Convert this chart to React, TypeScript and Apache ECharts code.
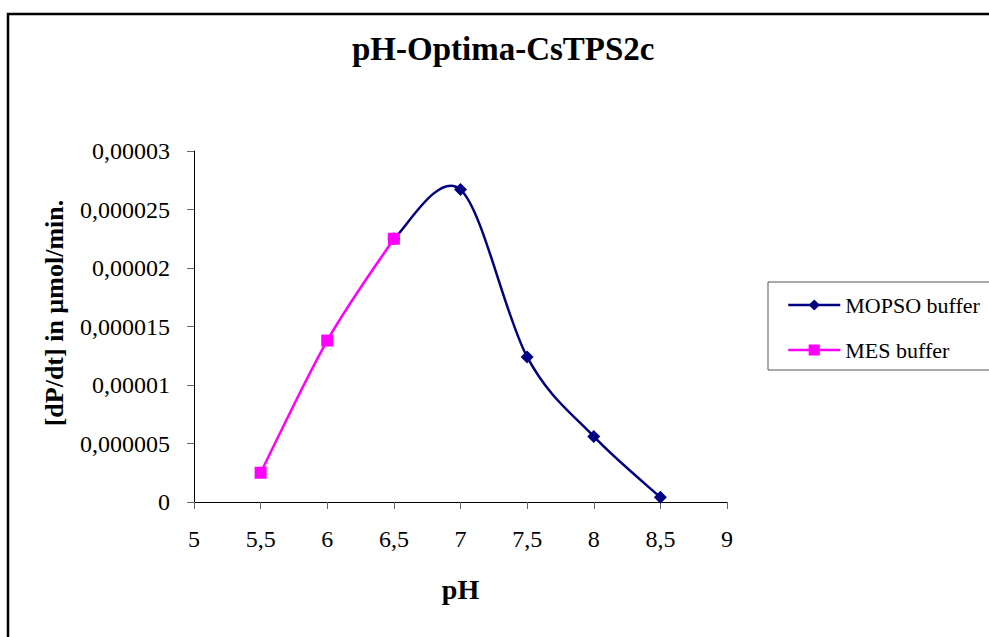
import React, { useEffect, useRef } from "react";
import * as echarts from "echarts";

const chartTitle = "pH-Optima-CsTPS2c";
const xAxisTitle = "pH";
const yAxisTitle = "[dP/dt] in µmol/min.";

const mopsoName = "MOPSO buffer";
const mopsoPH = [6.5, 7, 7.5, 8, 8.5];
const mopsoRate = [0.0000225, 0.0000267, 0.0000124, 0.0000056, 0.0000004];

const mesName = "MES buffer";
const mesPH = [5.5, 6, 6.5];
const mesRate = [0.0000025, 0.0000138, 0.0000225];

const xTickLabels = ["5", "5,5", "6", "6,5", "7", "7,5", "8", "8,5", "9"];
const yTickLabels = ["0", "0,000005", "0,00001", "0,000015", "0,00002", "0,000025", "0,00003"];

const FONT = "Liberation Serif, Times New Roman, serif";
const NAVY = "#000080";
const MAGENTA = "#FF00FF";

// Excel-like smoothed curve: one cubic Bezier segment per data interval,
// control points from neighbouring points (Catmull-Rom style), in pixel space.
function splineRenderer(color: string) {
  return (params: any, api: any) => {
    const i = params.dataIndexInside;
    const n = params.dataInsideLength;
    if (i >= n - 1) return null;
    const pt = (j: number) => {
      const k = Math.max(0, Math.min(n - 1, j));
      return api.coord([api.value(0, k), api.value(1, k)]);
    };
    const p0 = pt(i - 1);
    const p1 = pt(i);
    const p2 = pt(i + 1);
    const p3 = pt(i + 2);
    return {
      type: "bezierCurve",
      shape: {
        x1: p1[0],
        y1: p1[1],
        cpx1: p1[0] + (p2[0] - p0[0]) / 6,
        cpy1: p1[1] + (p2[1] - p0[1]) / 6,
        cpx2: p2[0] - (p3[0] - p1[0]) / 6,
        cpy2: p2[1] - (p3[1] - p1[1]) / 6,
        x2: p2[0],
        y2: p2[1],
      },
      style: { stroke: color, lineWidth: 2.5, fill: "none" },
    };
  };
}

export default function App() {
  const ref = useRef<HTMLDivElement>(null);

  useEffect(() => {
    if (!ref.current) return;
    const chart = echarts.init(ref.current, null, { renderer: "svg" });
    const pairs = (xs: number[], ys: number[]) => xs.map((x, i) => [x, ys[i]]);
    chart.setOption({
      animation: false,
      backgroundColor: "#ffffff",
      title: {
        text: chartTitle,
        left: 352,
        top: 32,
        padding: 0,
        textStyle: { fontFamily: FONT, fontWeight: "bold", fontSize: 33, color: "#000" },
      },
      grid: { left: 194, right: 262, top: 151, bottom: 135, containLabel: false, outerBoundsMode: "none" },
      legend: {
        left: 768,
        top: 282,
        orient: "vertical",
        padding: [12, 40, 9, 19],
        itemGap: 23,
        itemWidth: 52,
        itemHeight: 14,
        borderColor: "#555",
        borderWidth: 1,
        backgroundColor: "#fff",
        lineStyle: { width: 2.5, opacity: 1 },
        textStyle: { fontFamily: FONT, fontSize: 22, color: "#000" },
        data: [mopsoName, mesName],
      },
      xAxis: {
        type: "value",
        min: 5,
        max: 9,
        interval: 0.5,
        name: xAxisTitle,
        nameLocation: "middle",
        nameGap: 73,
        nameTextStyle: { fontFamily: FONT, fontWeight: "bold", fontSize: 28, color: "#000" },
        axisLine: { show: true, onZero: false, lineStyle: { color: "#000", width: 1 } },
        axisTick: { show: true, length: 7, lineStyle: { color: "#666" } },
        axisLabel: {
          margin: 25,
          fontFamily: FONT,
          fontSize: 24,
          color: "#000",
          formatter: (v: number) => xTickLabels[Math.round((v - 5) / 0.5)] ?? "",
        },
        splitLine: { show: false },
      },
      yAxis: {
        type: "value",
        min: 0,
        max: 0.00003,
        interval: 0.000005,
        axisLine: { show: true, lineStyle: { color: "#000", width: 1 } },
        axisTick: { show: true, length: 7, lineStyle: { color: "#666" } },
        axisLabel: {
          margin: 24,
          fontFamily: FONT,
          fontSize: 24,
          color: "#000",
          formatter: (v: number) => yTickLabels[Math.round(v / 0.000005)] ?? "",
        },
        splitLine: { show: false },
      },
      graphic: [
        {
          type: "rect",
          silent: true,
          z: -10,
          shape: { x: 8, y: 14, width: 1200, height: 1000 },
          style: { fill: "none", stroke: "#000", lineWidth: 2.5 },
        },
        {
          type: "text",
          x: 54,
          y: 313,
          rotation: Math.PI / 2,
          style: {
            text: yAxisTitle,
            font: `bold 26px ${FONT}`,
            fill: "#000",
            textAlign: "center",
            textVerticalAlign: "middle",
          },
        },
      ],
      series: [
        {
          id: "mopsoCurve",
          type: "custom",
          data: pairs(mopsoPH, mopsoRate),
          encode: { x: 0, y: 1 },
          renderItem: splineRenderer(NAVY),
          silent: true,
          z: 2,
        },
        {
          id: "mesCurve",
          type: "custom",
          data: pairs(mesPH, mesRate),
          encode: { x: 0, y: 1 },
          renderItem: splineRenderer(MAGENTA),
          silent: true,
          z: 3,
        },
        {
          name: mopsoName,
          type: "line",
          data: pairs(mopsoPH, mopsoRate),
          symbol: "diamond",
          symbolSize: 13,
          lineStyle: { color: NAVY, width: 2.5, opacity: 0 },
          itemStyle: { color: NAVY },
          z: 4,
        },
        {
          name: mesName,
          type: "line",
          data: pairs(mesPH, mesRate),
          symbol: "rect",
          symbolSize: 12,
          lineStyle: { color: MAGENTA, width: 2.5, opacity: 0 },
          itemStyle: { color: MAGENTA },
          z: 5,
        },
      ],
    });
    return () => chart.dispose();
  }, []);

  return (
    <div
      ref={ref}
      style={{ position: "fixed", left: 0, top: 0, width: 989, height: 637, background: "#fff" }}
    />
  );
}
